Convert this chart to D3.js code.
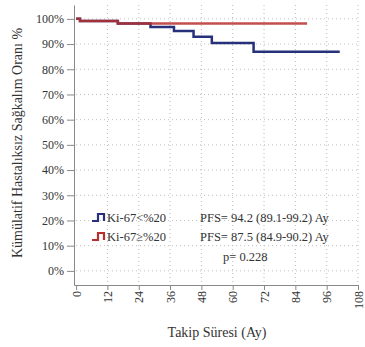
<!DOCTYPE html>
<html>
<head>
<meta charset="utf-8">
<script src="https://cdn.jsdelivr.net/npm/d3@7"></script>
<style>
  body { margin: 0; background: #fff; }
  svg text { font-family: "Liberation Serif", "Times New Roman", "DejaVu Serif", serif; }
  .grid line { stroke: #bbb; stroke-dasharray: 1,3; }
  .axis path, .axis line { stroke: #888; }
  .axis text { font-size: 12px; fill: #333; }
</style>
</head>
<body>
<div id="vis"></div>
<script>
// Kaplan-Meier step data
var lowTimes = [0, 1.5, 16, 28.5, 37.5, 45, 52, 68, 101];
var lowSurv  = [100, 99.2, 98.2, 96.8, 95.2, 92.9, 90.4, 87, 87];
var highTimes = [0, 1.5, 16, 88.5];
var highSurv  = [100, 99.2, 98.2, 98.2];

var xTicks = [0, 12, 24, 36, 48, 60, 72, 84, 96, 108];
var yTicks = [0, 10, 20, 30, 40, 50, 60, 70, 80, 90, 100];

var seriesNames = ["Ki-67<%20", "Ki-67\u2265%20"];
var seriesColors = ["#27307a", "#b8302e"];
var statsText = ["PFS= 94.2 (89.1-99.2) Ay", "PFS= 87.5 (84.9-90.2) Ay"];
var pText = "p= 0.228";

var serif = "Liberation Serif, Times New Roman, DejaVu Serif, serif";

var svg = d3.select("#vis").append("svg")
  .attr("width", 365)
  .attr("height", 347);

var x = d3.scaleLinear().domain([-0.8, 108]).range([74, 358]);
var y = d3.scaleLinear().domain([-5.6, 105.5]).range([285, 5]);

// grid
var grid = svg.append("g").attr("class", "grid");
grid.selectAll(".h").data(yTicks).enter().append("line")
  .attr("x1", x(0)).attr("x2", x(108))
  .attr("y1", function(d) { return y(d); })
  .attr("y2", function(d) { return y(d); });
grid.selectAll(".v").data(xTicks.slice(1)).enter().append("line")
  .attr("x1", function(d) { return x(d); })
  .attr("x2", function(d) { return x(d); })
  .attr("y1", y(105.5)).attr("y2", y(-5.6));

// axes
svg.append("g")
  .attr("class", "axis")
  .attr("font-family", serif)
  .attr("transform", "translate(0,285)")
  .call(d3.axisBottom(x).tickValues(xTicks).tickSize(5).tickSizeOuter(0))
  .selectAll("text")
    .attr("transform", "rotate(-90)")
    .attr("text-anchor", "end")
    .attr("x", -6)
    .attr("y", 0)
    .attr("dy", "0.35em");

svg.append("g")
  .attr("class", "axis")
  .attr("font-family", serif)
  .attr("transform", "translate(74,0)")
  .call(d3.axisLeft(y).tickValues(yTicks).tickSize(7).tickSizeOuter(0)
    .tickFormat(function(d) { return d + "%"; }));

// curves
var line = d3.line()
  .x(function(d) { return x(d[0]); })
  .y(function(d) { return y(d[1]); })
  .curve(d3.curveStepAfter);

var lowData = lowTimes.map(function(t, i) { return [t, lowSurv[i]]; });
var highData = highTimes.map(function(t, i) { return [t, highSurv[i]]; });

svg.append("path").datum(lowData)
  .attr("d", line)
  .attr("fill", "none")
  .attr("stroke", seriesColors[0])
  .attr("stroke-width", 2.5);

svg.append("path").datum(highData)
  .attr("d", line)
  .attr("fill", "none")
  .attr("stroke", seriesColors[1])
  .attr("stroke-opacity", 0.85)
  .attr("stroke-width", 2.5);

// legend
var legend = svg.selectAll(".legend")
  .data(seriesNames)
  .enter().append("g")
  .attr("transform", function(d, i) { return "translate(92," + (218 + i * 19) + ")"; });

legend.append("path")
  .attr("d", "M0,3H6V-4H12V3")
  .attr("fill", "none")
  .attr("stroke", function(d, i) { return seriesColors[i]; })
  .attr("stroke-width", 2.2);

legend.append("text")
  .attr("x", 15)
  .attr("dy", "0.35em")
  .attr("font-family", serif)
  .attr("font-size", 12.5)
  .attr("fill", "#333")
  .text(function(d) { return d; });

legend.append("text")
  .attr("x", 108)
  .attr("dy", "0.35em")
  .attr("font-family", serif)
  .attr("font-size", 12.5)
  .attr("fill", "#333")
  .text(function(d, i) { return statsText[i]; });

svg.append("text")
  .attr("x", 223)
  .attr("y", 257)
  .attr("dy", "0.35em")
  .attr("font-family", serif)
  .attr("font-size", 12.5)
  .attr("fill", "#333")
  .text(pText);

// axis titles
svg.append("text")
  .attr("x", 217)
  .attr("y", 332)
  .attr("dy", "0.35em")
  .attr("text-anchor", "middle")
  .attr("font-family", serif)
  .attr("font-size", 14)
  .attr("fill", "#333")
  .text("Takip Süresi (Ay)");

svg.append("text")
  .attr("transform", "translate(17,143) rotate(-90)")
  .attr("dy", "0.35em")
  .attr("text-anchor", "middle")
  .attr("font-family", serif)
  .attr("font-size", 14)
  .attr("fill", "#333")
  .text("Kümülatif Hastalıksız Sağkalım Oranı %");
</script>
</body>
</html>
